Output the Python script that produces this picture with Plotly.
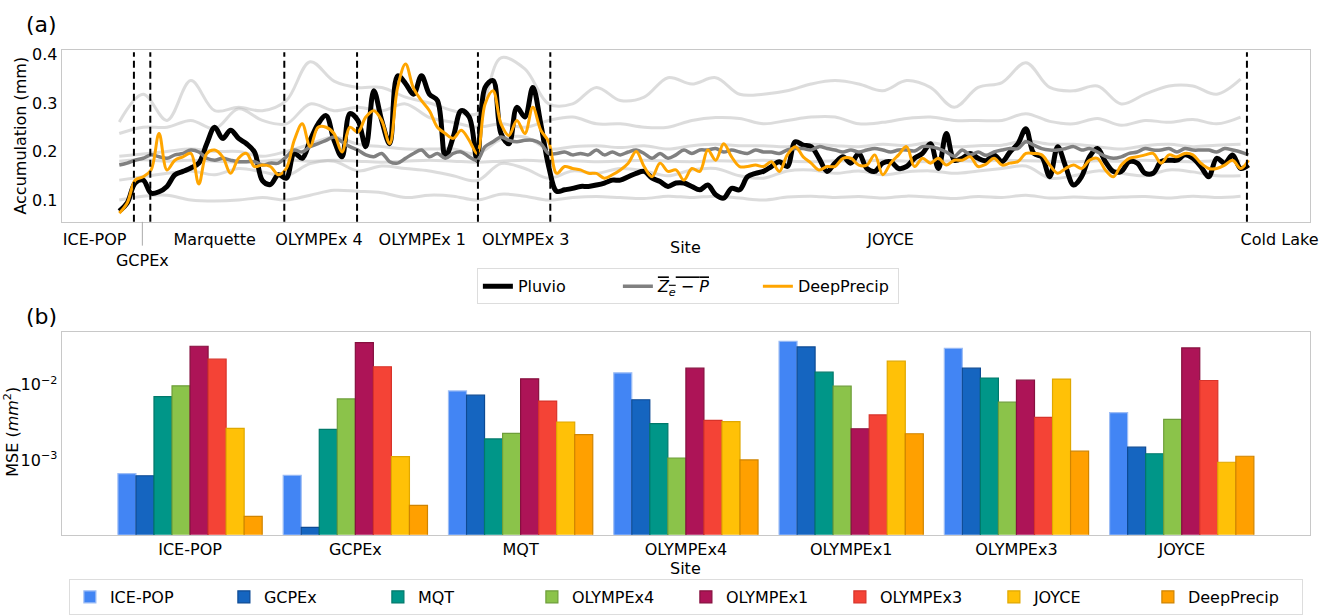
import plotly.graph_objects as go

# ---------------- panel (a): accumulation per time step ----------------
pluvio = [
    0.077, 0.094, 0.135, 0.141, 0.114, 0.117, 0.128, 0.152, 0.159, 0.166,
    0.176, 0.216, 0.250, 0.227, 0.244, 0.227, 0.216, 0.199, 0.140, 0.132,
    0.152, 0.145, 0.196, 0.186, 0.223, 0.257, 0.274, 0.223, 0.189, 0.278,
    0.264, 0.210, 0.325, 0.264, 0.216, 0.356, 0.340,
    0.318, 0.356, 0.318, 0.305, 0.189, 0.230, 0.284, 0.271, 0.182, 0.332,
    0.346, 0.237, 0.216, 0.291, 0.271, 0.332, 0.257, 0.169, 0.118, 0.121,
    0.124, 0.128, 0.128, 0.131, 0.135, 0.141, 0.141, 0.148, 0.155, 0.159,
    0.145, 0.138, 0.128, 0.135, 0.135, 0.128, 0.121,
    0.131, 0.111, 0.104, 0.124, 0.121, 0.148, 0.155, 0.159, 0.169, 0.179,
    0.169, 0.220, 0.213, 0.210, 0.186, 0.159, 0.176, 0.189, 0.176, 0.196,
    0.165, 0.159, 0.176, 0.179, 0.165, 0.169, 0.186, 0.196, 0.216, 0.165,
    0.237, 0.182, 0.186, 0.196, 0.186, 0.181,
    0.193, 0.179, 0.199, 0.216, 0.247, 0.196, 0.189, 0.148, 0.210, 0.169,
    0.131, 0.148, 0.189, 0.206, 0.179, 0.159, 0.159, 0.179, 0.176, 0.155,
    0.155, 0.179, 0.182, 0.182, 0.193, 0.186, 0.169, 0.148, 0.186, 0.176,
    0.193, 0.165, 0.172,
]

deepprecip = [
    0.073, 0.094, 0.141, 0.148, 0.162, 0.237, 0.162, 0.182, 0.189, 0.196,
    0.133, 0.196, 0.203, 0.189, 0.155, 0.186, 0.196, 0.169, 0.172, 0.169,
    0.152, 0.165, 0.223, 0.257, 0.210, 0.250, 0.250, 0.237, 0.199, 0.250,
    0.240, 0.271, 0.284, 0.264, 0.216, 0.332, 0.380,
    0.330, 0.305, 0.284, 0.250, 0.237, 0.227, 0.244, 0.223, 0.196, 0.298,
    0.325, 0.257, 0.233, 0.264, 0.237, 0.291, 0.244, 0.220, 0.155, 0.169,
    0.165, 0.162, 0.155, 0.155, 0.145, 0.152, 0.162, 0.176, 0.200, 0.169,
    0.148, 0.176, 0.159, 0.162, 0.141, 0.165, 0.159,
    0.203, 0.182, 0.216, 0.189, 0.169, 0.169, 0.172, 0.169, 0.179, 0.159,
    0.193, 0.210, 0.189, 0.176, 0.162, 0.169, 0.169, 0.186, 0.186, 0.172,
    0.172, 0.193, 0.152, 0.176, 0.193, 0.210, 0.169, 0.186, 0.176, 0.186,
    0.172, 0.182, 0.182, 0.189, 0.169, 0.174,
    0.186, 0.172, 0.176, 0.179, 0.196, 0.196, 0.193, 0.172, 0.155, 0.165,
    0.172, 0.165, 0.182, 0.186, 0.162, 0.148, 0.172, 0.186, 0.189, 0.193,
    0.196, 0.176, 0.193, 0.189, 0.196, 0.193, 0.176, 0.165, 0.165, 0.172,
    0.182, 0.165, 0.182,
]

ze_p_mean = [
    0.172, 0.176, 0.182, 0.186, 0.193, 0.189, 0.186, 0.193, 0.196, 0.203,
    0.199, 0.186, 0.182, 0.186, 0.182, 0.179, 0.179, 0.179, 0.172, 0.176,
    0.176, 0.189, 0.203, 0.199, 0.210, 0.216, 0.223, 0.230, 0.220, 0.210,
    0.203, 0.193, 0.189, 0.196, 0.179, 0.176, 0.186,
    0.196, 0.203, 0.189, 0.196, 0.186, 0.196, 0.199, 0.189, 0.182, 0.210,
    0.220, 0.230, 0.223, 0.220, 0.223, 0.223, 0.216, 0.196, 0.196, 0.199,
    0.193, 0.196, 0.193, 0.203, 0.193, 0.199, 0.193, 0.199, 0.203, 0.196,
    0.186, 0.196, 0.186, 0.193, 0.203, 0.196, 0.203,
    0.203, 0.206, 0.199, 0.203, 0.199, 0.196, 0.203, 0.199, 0.199, 0.196,
    0.203, 0.206, 0.206, 0.203, 0.210, 0.206, 0.203, 0.199, 0.203, 0.199,
    0.203, 0.206, 0.203, 0.199, 0.203, 0.203, 0.201, 0.210, 0.210, 0.206,
    0.199, 0.190, 0.203, 0.193, 0.199, 0.192,
    0.199, 0.203, 0.206, 0.206, 0.220, 0.213, 0.206, 0.203, 0.203, 0.206,
    0.210, 0.203, 0.206, 0.199, 0.190, 0.186, 0.189, 0.196, 0.199, 0.206,
    0.203, 0.203, 0.206, 0.199, 0.206, 0.203, 0.203, 0.203, 0.199, 0.206,
    0.203, 0.199, 0.193,
]

# individual Z_e-P relations, stored every third step
ze_p_step = 3
ze_p_1 = [
    0.261, 0.318, 0.264, 0.346, 0.284, 0.291, 0.284, 0.305, 0.385, 0.345,
    0.332, 0.332, 0.312, 0.300, 0.284, 0.278, 0.393, 0.370, 0.298, 0.298,
    0.332, 0.305, 0.312, 0.352, 0.339, 0.352, 0.318, 0.318, 0.325, 0.339,
    0.346, 0.339, 0.325, 0.346, 0.332, 0.291, 0.332, 0.342, 0.383, 0.332,
    0.325, 0.335, 0.298, 0.318, 0.335, 0.335, 0.318, 0.349,
]
ze_p_2 = [
    0.237, 0.250, 0.250, 0.264, 0.247, 0.288, 0.264, 0.257, 0.298, 0.284,
    0.291, 0.284, 0.298, 0.270, 0.260, 0.250, 0.257, 0.250, 0.264, 0.271,
    0.257, 0.257, 0.250, 0.250, 0.264, 0.270, 0.268, 0.257, 0.264, 0.271,
    0.271, 0.257, 0.260, 0.268, 0.271, 0.264, 0.264, 0.264, 0.278, 0.262,
    0.257, 0.268, 0.254, 0.264, 0.260, 0.266, 0.257, 0.271,
]
ze_p_3 = [
    0.190, 0.195, 0.200, 0.205, 0.200, 0.200, 0.190, 0.200, 0.215, 0.230,
    0.215, 0.210, 0.205, 0.205, 0.205, 0.195, 0.225, 0.230, 0.205, 0.210,
    0.212, 0.208, 0.212, 0.205, 0.212, 0.215, 0.212, 0.212, 0.210, 0.215,
    0.212, 0.210, 0.215, 0.212, 0.218, 0.210, 0.212, 0.213, 0.222, 0.215,
    0.215, 0.210, 0.205, 0.212, 0.215, 0.210, 0.213, 0.215,
]
ze_p_4 = [
    0.180, 0.183, 0.180, 0.182, 0.180, 0.178, 0.180, 0.183, 0.180, 0.182,
    0.180, 0.178, 0.180, 0.182, 0.180, 0.178, 0.180, 0.182, 0.180, 0.181,
    0.179, 0.180, 0.182, 0.180, 0.179, 0.181, 0.180, 0.182, 0.180, 0.179,
    0.181, 0.180, 0.182, 0.180, 0.179, 0.181, 0.180, 0.182, 0.181, 0.180,
    0.179, 0.181, 0.180, 0.182, 0.180, 0.179, 0.181, 0.180,
]
ze_p_5 = [
    0.141, 0.148, 0.155, 0.160, 0.152, 0.165, 0.158, 0.150, 0.175, 0.180,
    0.160, 0.170, 0.165, 0.160, 0.150, 0.140, 0.175, 0.165, 0.145, 0.160,
    0.155, 0.165, 0.160, 0.150, 0.162, 0.165, 0.150, 0.145, 0.160, 0.162,
    0.155, 0.160, 0.152, 0.158, 0.160, 0.155, 0.160, 0.165, 0.170, 0.145,
    0.150, 0.160, 0.155, 0.150, 0.162, 0.158, 0.150, 0.150,
]
ze_p_6 = [
    0.100, 0.108, 0.110, 0.100, 0.098, 0.100, 0.105, 0.100, 0.110, 0.120,
    0.118, 0.115, 0.105, 0.110, 0.108, 0.100, 0.112, 0.108, 0.100, 0.105,
    0.107, 0.105, 0.103, 0.108, 0.105, 0.108, 0.104, 0.100, 0.106, 0.108,
    0.105, 0.107, 0.104, 0.108, 0.106, 0.103, 0.107, 0.105, 0.110, 0.104,
    0.106, 0.104, 0.106, 0.107, 0.104, 0.108, 0.105, 0.108,
]

site_names = ["ICE-POP", "GCPEx", "Marquette", "OLYMPEx 4", "OLYMPEx 1",
              "OLYMPEx 3", "JOYCE", "Cold Lake"]
site_label_pos = [-3.1, 2.9, 12.0, 25.1, 38.1, 51.1, 97.0, 145.9]
site_edges = [1.84, 3.9, 20.75, 29.9, 45.1, 54.2, 141.8]

# ---------------- panel (b): MSE of each model at each site ----------------
test_sites = ["ICE-POP", "GCPEx", "MQT", "OLYMPEx4", "OLYMPEx1", "OLYMPEx3", "JOYCE"]
models = ["ICE-POP", "GCPEx", "MQT", "OLYMPEx4", "OLYMPEx1", "OLYMPEx3", "JOYCE", "DeepPrecip"]
mse_icepop = [6.7e-4, 6.4e-4, 8.3e-3, 1.44e-2, 3.76e-2, 3.04e-2, 4.28e-3]
mse_gcpex = [6.3e-4, 1.31e-4, 7.3e-3, 6.35e-3, 3.16e-2, 1.66e-2, 1.50e-3]
mse_mqt = [7.0e-3, 2.58e-3, 1.93e-3, 3.07e-3, 1.47e-2, 1.23e-2, 1.23e-3]
mse_olympex4 = [9.7e-3, 6.5e-3, 2.29e-3, 1.08e-3, 9.6e-3, 5.9e-3, 3.50e-3]
mse_olympex1 = [3.23e-2, 3.6e-2, 1.20e-2, 1.66e-2, 2.63e-3, 1.15e-2, 3.07e-2]
mse_olympex3 = [2.18e-2, 1.73e-2, 6.1e-3, 3.40e-3, 4.0e-3, 3.71e-3, 1.14e-2]
mse_joyce = [2.66e-3, 1.13e-3, 3.23e-3, 3.26e-3, 2.05e-2, 1.19e-2, 9.5e-4]
mse_deepprecip = [1.83e-4, 2.56e-4, 2.20e-3, 1.02e-3, 2.26e-3, 1.33e-3, 1.14e-3]
mse_by_model = [mse_icepop, mse_gcpex, mse_mqt, mse_olympex4, mse_olympex1,
                mse_olympex3, mse_joyce, mse_deepprecip]

bar_fill = ["#4285F4", "#1565C0", "#009688", "#8BC34A", "#AD1457", "#F44336", "#FFC107", "#FFA000"]
bar_edge = ["#9dbdf5", "#0d4a94", "#00796b", "#6e9e3a", "#86103f", "#d8332a", "#e0a800", "#d08400"]

FONT = "DejaVu Sans"
W, H = 1344, 615


def px_x(p):
    return p / W


def px_y(p):
    return 1 - p / H


fig = go.Figure()

steps = list(range(len(pluvio)))
for run in [ze_p_1, ze_p_2, ze_p_3, ze_p_4, ze_p_5, ze_p_6]:
    fig.add_trace(go.Scatter(
        x=[i * ze_p_step for i in range(len(run))], y=run, mode="lines",
        line=dict(color="rgba(185,185,185,0.5)", width=3, shape="spline"),
        showlegend=False, hoverinfo="skip", xaxis="x", yaxis="y"))

fig.add_trace(go.Scatter(x=steps, y=pluvio, mode="lines", name="Pluvio",
                         line=dict(color="black", width=5, shape="spline"),
                         xaxis="x", yaxis="y", legend="legend"))
fig.add_trace(go.Scatter(x=steps, y=ze_p_mean, mode="lines",
                         name="<span style='text-decoration:overline'><i>Z<sub>e</sub></i> − <i>P</i></span>",
                         line=dict(color="#808080", width=3.5, shape="spline"),
                         xaxis="x", yaxis="y", legend="legend"))
fig.add_trace(go.Scatter(x=steps, y=deepprecip, mode="lines", name="DeepPrecip",
                         line=dict(color="#FFA500", width=3, shape="spline"),
                         xaxis="x", yaxis="y", legend="legend"))

for name, vals, fc, ec in zip(models, mse_by_model, bar_fill, bar_edge):
    fig.add_trace(go.Bar(x=test_sites, y=vals, name=name,
                         marker=dict(color=fc, line=dict(color=ec, width=1.2)),
                         xaxis="x2", yaxis="y2", legend="legend2"))

shapes = []
for e in site_edges:
    shapes.append(dict(type="line", xref="x", yref="y domain", x0=e, x1=e, y0=0, y1=0.985,
                       line=dict(color="black", width=2, dash="7px,4px")))
# leader from the axis down to the offset GCPEx label
shapes.append(dict(type="line", xref="x", yref="paper", x0=site_label_pos[1], x1=site_label_pos[1],
                   y0=px_y(219), y1=px_y(243), line=dict(color="#aaaaaa", width=1)))

tick_text_a = [("<br>" + s) if s == "GCPEx" else s for s in site_names]

axis_common = dict(showline=True, mirror=True, linecolor="#c8c8c8", linewidth=1,
                   showgrid=False, zeroline=False,
                   tickfont=dict(size=16, color="black", family=FONT))


def label(text, x, y, size=16, angle=0):
    return dict(text=text, x=px_x(x), y=px_y(y), xref="paper", yref="paper",
                xanchor="center", yanchor="middle", showarrow=False,
                textangle=angle, font=dict(size=size, color="black", family=FONT))


fig.update_layout(
    width=W, height=H, margin=dict(l=0, r=0, t=0, b=0),
    paper_bgcolor="white", plot_bgcolor="white",
    font=dict(family=FONT, size=16, color="black"),
    barmode="group", bargap=0.127, bargroupgap=0,
    xaxis=dict(domain=[px_x(62), px_x(1318)], range=[-7.25, 149.75], anchor="y",
               tickmode="array", tickvals=site_label_pos, ticktext=tick_text_a, tickangle=0,
               ticks="outside", ticklen=3, tickcolor="rgba(0,0,0,0)", **axis_common),
    yaxis=dict(domain=[px_y(219), px_y(45)], range=[0.055, 0.41], anchor="x",
               tickmode="array", tickvals=[0.1, 0.2, 0.3, 0.4], ticks="",
               ticktext=["0.1", "0.2", "0.3", "0.4"], **axis_common),
    xaxis2=dict(domain=[px_x(62), px_x(1318)], range=[-0.777, 6.777], anchor="y2",
                type="category", tickangle=0, ticks="", **axis_common),
    yaxis2=dict(domain=[px_y(535), px_y(330)], type="log", range=[-3.98, -1.30], anchor="x2",
                tickmode="array", tickvals=[1e-3, 1e-2], ticks="",
                ticktext=["10<sup>−3</sup>", "10<sup>−2</sup>"], **axis_common),
    legend=dict(orientation="h", x=px_x(692), y=px_y(284), xanchor="center", yanchor="middle",
                bordercolor="#dddddd", borderwidth=1, bgcolor="white",
                font=dict(size=16, family=FONT, color="black"),
                entrywidth=95, entrywidthmode="pixels"),
    legend2=dict(orientation="h", x=px_x(690), y=px_y(598), xanchor="center", yanchor="middle",
                 bordercolor="#dddddd", borderwidth=1, bgcolor="white",
                 font=dict(size=16, family=FONT, color="black"),
                 entrywidth=109, entrywidthmode="pixels"),
    shapes=shapes,
    annotations=[
        label("(a)", 42, 20, size=22),
        label("(b)", 42, 315, size=22),
        label("Site", 690, 245),
        label("Site", 690, 569),
        label("Accumulation (mm)", 21, 132, angle=-90),
        label("MSE (<i>mm</i><sup>2</sup>)", 12, 431, angle=-90),
    ],
)

fig.write_html("out.html")
